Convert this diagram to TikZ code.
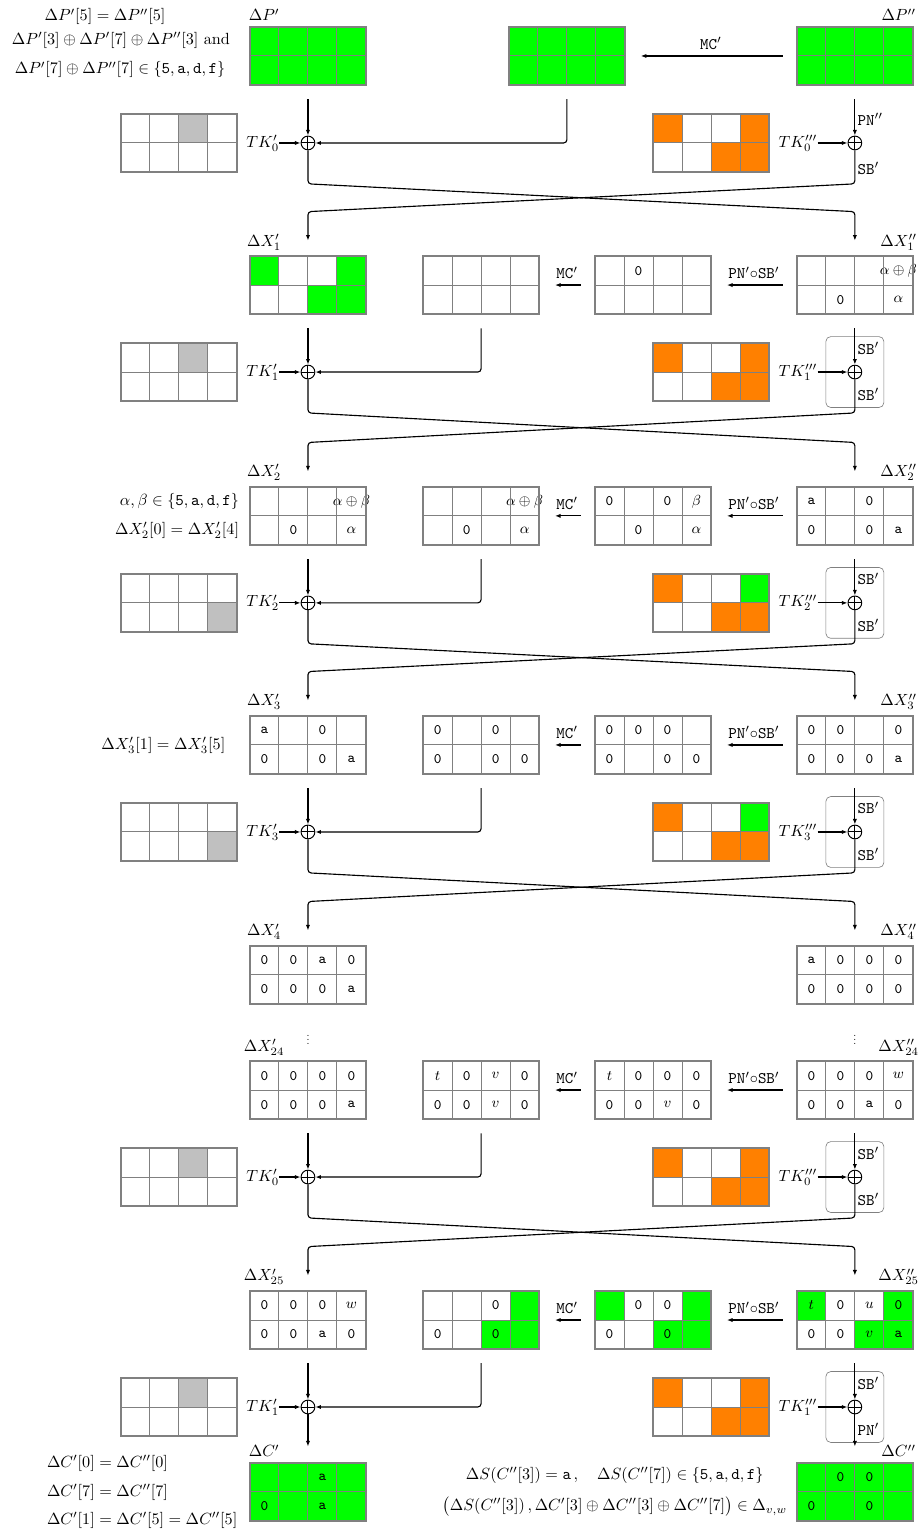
\documentclass[tikz,border=0pt]{standalone}
\usetikzlibrary{arrows.meta,calc,positioning}

\definecolor{actgreen}{RGB}{0,255,0}
\definecolor{keyorange}{RGB}{255,128,0}
\definecolor{keygray}{RGB}{192,192,192}

\tikzset{
  cellbox/.style={inner sep=0pt, minimum width=2.52cm, minimum height=1.26cm},
  celltxt/.style={font=\ttfamily\small, inner sep=0pt},
  gridln/.style={draw=gray, line width=0.6pt},
  xorop/.style={circle, draw, line width=0.6pt, inner sep=0pt, minimum size=8.5pt,
    path picture={\draw[line width=0.6pt] (path picture bounding box.north) -- (path picture bounding box.south)
      (path picture bounding box.west) -- (path picture bounding box.east);}},
  tklbl/.style={anchor=west, inner sep=0pt, xshift=5.5pt},
  oplbl/.style={anchor=base west, inner sep=1.5pt},
  sbbox/.style={draw=gray, rounded corners=3pt, minimum width=1.26cm, minimum height=1.54cm, inner sep=0pt},
  flow/.style={->, line width=0.7pt, rounded corners=2pt},
  rndarr/.style={->, line width=0.7pt, shorten <=8.6pt, shorten >=9.6pt},
}

% #1 name, #2 north west corner, #3 background, #4 cells index/colour/text
\newcommand{\drawstate}[4]{%
  \begin{scope}[shift={(#2)}]
    \fill[#3] (0,0) rectangle (4,-2);
    \foreach \k/\fc/\tx in {#4} {
      \pgfmathtruncatemacro{\cx}{mod(\k,4)}
      \pgfmathtruncatemacro{\cy}{\k/4}
      \fill[\fc] (\cx,-\cy) rectangle ++(1,-1);
      \node[celltxt] at (\cx+0.5,-\cy-0.5) {\tx};
    }
    \foreach \i in {1,2,3}
      \draw[gridln] (\i,0) -- (\i,-2);
    \draw[gridln] (0,-1) -- (4,-1);
    \draw[gridln, line width=1pt] (0,0) rectangle (4,-2);
    \node[cellbox] (#1) at (2,-1) {};
  \end{scope}}

\begin{document}
\begin{tikzpicture}[x=0.63cm, y=0.63cm, >={Latex[length=3.5pt,width=2.6pt]}]
    \useasboundingbox (0,0) rectangle (31.66,-52.9);

    % round 0
    \drawstate{P1}{8.62,-0.93}{actgreen}{0/actgreen/{}}
    \drawstate{P1m}{17.55,-0.93}{actgreen}{0/actgreen/{}}
    \drawstate{P2}{27.48,-0.93}{actgreen}{0/actgreen/{}}
    \drawstate{K0a}{4.17,-3.93}{white}{2/keygray/{}}
    \drawstate{K0b}{22.52,-3.93}{white}{0/keyorange/{},3/keyorange/{},6/keyorange/{},7/keyorange/{}}
    \node[above] at ([xshift=0.315cm]P1.north west) {$\Delta P'$};
    \node[above] at ([xshift=-0.315cm]P2.north east) {$\Delta P''$};
    \node at (3.62,-0.58) {$\Delta P'[5] = \Delta P''[5]$};
    \node at (4.17,-1.4) {$\Delta P'[3]\oplus\Delta P'[7]\oplus\Delta P''[3]$ and};
    \node at (4.14,-2.41) {$\Delta P'[7]\oplus\Delta P''[7]\in\{\texttt{5},\texttt{a},\texttt{d},\texttt{f}\}$};
    \node[xorop] (x0a) at (10.62,-4.93) {};
    \node[xorop] (x0b) at (29.48,-4.93) {};
    \node[tklbl] (tk0a) at (K0a.east) {$TK'_0$};
    \node[tklbl] (tk0b) at (K0b.east) {$TK'''_0$};
    \node[oplbl] at ($(x0b)+(0,0.6)$) {\texttt{PN}$''$};
    \node[oplbl] at ($(x0b)+(0,-1.1)$) {\texttt{SB}$'$};
    \draw[rndarr] (P2) -- node[above] {\texttt{MC}$'$} (P1m);
    \draw[flow, shorten <=8.6pt] (P1) -- (x0a);
    \draw[flow, shorten <=8.6pt] (P1m) |- (x0a);
    \draw[flow] (tk0a) -- (x0a);
    \draw[flow] (tk0b) -- (x0b);
    \draw[flow, shorten <=8.6pt] (P2) -- (x0b);

    % round 1
    \drawstate{X1a}{8.62,-8.83}{white}{0/actgreen/{},3/actgreen/{},6/actgreen/{},7/actgreen/{}}
    \drawstate{X1m}{14.59,-8.83}{white}{0/white/{}}
    \drawstate{X1n}{20.52,-8.83}{white}{1/white/0}
    \drawstate{X1b}{27.48,-8.83}{white}{3/white/{$\alpha\oplus\beta$},5/white/0,7/white/{$\alpha$}}
    \drawstate{K1a}{4.17,-11.83}{white}{2/keygray/{}}
    \drawstate{K1b}{22.52,-11.83}{white}{0/keyorange/{},3/keyorange/{},6/keyorange/{},7/keyorange/{}}
    \node[above] at ([xshift=0.315cm]X1a.north west) {$\Delta X'_1$};
    \node[above] at ([xshift=-0.315cm]X1b.north east) {$\Delta X''_1$};
    \node[xorop] (x1a) at (10.62,-12.83) {};
    \node[xorop] (x1b) at (29.48,-12.83) {};
    \node[sbbox] at (x1b) {};
    \node[tklbl] (tk1a) at (K1a.east) {$TK'_1$};
    \node[tklbl] (tk1b) at (K1b.east) {$TK'''_1$};
    \node[oplbl] at ($(x1b)+(0,0.62)$) {\texttt{SB}$'$};
    \node[oplbl] at ($(x1b)+(0,-0.97)$) {\texttt{SB}$'$};
    \draw[rndarr] (X1b) -- node[above] {\texttt{PN}$'{\circ}$\texttt{SB}$'$} (X1n);
    \draw[rndarr] (X1n) -- node[above] {\texttt{MC}$'$} (X1m);
    \draw[flow, shorten <=8.6pt] (X1a) -- (x1a);
    \draw[flow, shorten <=8.6pt] (X1m) |- (x1a);
    \draw[flow] (tk1a) -- (x1a);
    \draw[flow] (tk1b) -- (x1b);
    \draw[flow, shorten <=8.6pt] (X1b) -- (x1b);
    \draw[flow, shorten >=9.3pt] (x0a) -- ++(0,-1.41) -- ($(X1b.north)+(0,1.52)$) -- (X1b.north);
    \draw[flow, shorten >=9.3pt] (x0b) -- ++(0,-1.41) -- ($(X1a.north)+(0,1.52)$) -- (X1a.north);

    % round 2
    \drawstate{X2a}{8.62,-16.79}{white}{3/white/{$\alpha\oplus\beta$},5/white/0,7/white/{$\alpha$}}
    \drawstate{X2m}{14.59,-16.79}{white}{3/white/{$\alpha\oplus\beta$},5/white/0,7/white/{$\alpha$}}
    \drawstate{X2n}{20.52,-16.79}{white}{0/white/0,2/white/0,3/white/{$\beta$},5/white/0,7/white/{$\alpha$}}
    \drawstate{X2b}{27.48,-16.79}{white}{0/white/a,2/white/0,4/white/0,6/white/0,7/white/a}
    \drawstate{K2a}{4.17,-19.79}{white}{7/keygray/{}}
    \drawstate{K2b}{22.52,-19.79}{white}{0/keyorange/{},3/actgreen/{},6/keyorange/{},7/keyorange/{}}
    \node[above] at ([xshift=0.315cm]X2a.north west) {$\Delta X'_2$};
    \node[above] at ([xshift=-0.315cm]X2b.north east) {$\Delta X''_2$};
    \node[left=3pt] at ($(X2a.north west)+(0,-0.5)$) {$\alpha,\beta\in\{\texttt{5},\texttt{a},\texttt{d},\texttt{f}\}$};
    \node[left=3pt] at ($(X2a.north west)+(0,-1.5)$) {$\Delta X'_2[0] = \Delta X'_2[4]$};
    \node[xorop] (x2a) at (10.62,-20.79) {};
    \node[xorop] (x2b) at (29.48,-20.79) {};
    \node[sbbox] at (x2b) {};
    \node[tklbl] (tk2a) at (K2a.east) {$TK'_2$};
    \node[tklbl] (tk2b) at (K2b.east) {$TK'''_2$};
    \node[oplbl] at ($(x2b)+(0,0.62)$) {\texttt{SB}$'$};
    \node[oplbl] at ($(x2b)+(0,-0.97)$) {\texttt{SB}$'$};
    \draw[rndarr] (X2b) -- node[above] {\texttt{PN}$'{\circ}$\texttt{SB}$'$} (X2n);
    \draw[rndarr] (X2n) -- node[above] {\texttt{MC}$'$} (X2m);
    \draw[flow, shorten <=8.6pt] (X2a) -- (x2a);
    \draw[flow, shorten <=8.6pt] (X2m) |- (x2a);
    \draw[flow] (tk2a) -- (x2a);
    \draw[flow] (tk2b) -- (x2b);
    \draw[flow, shorten <=8.6pt] (X2b) -- (x2b);
    \draw[flow, shorten >=9.3pt] (x1a) -- ++(0,-1.41) -- ($(X2b.north)+(0,1.52)$) -- (X2b.north);
    \draw[flow, shorten >=9.3pt] (x1b) -- ++(0,-1.41) -- ($(X2a.north)+(0,1.52)$) -- (X2a.north);

    % round 3
    \drawstate{X3a}{8.62,-24.69}{white}{0/white/a,2/white/0,4/white/0,6/white/0,7/white/a}
    \drawstate{X3m}{14.59,-24.69}{white}{0/white/0,2/white/0,4/white/0,6/white/0,7/white/0}
    \drawstate{X3n}{20.52,-24.69}{white}{0/white/0,1/white/0,2/white/0,4/white/0,6/white/0,7/white/0}
    \drawstate{X3b}{27.48,-24.69}{white}{0/white/0,1/white/0,3/white/0,4/white/0,5/white/0,6/white/0,7/white/a}
    \drawstate{K3a}{4.17,-27.69}{white}{7/keygray/{}}
    \drawstate{K3b}{22.52,-27.69}{white}{0/keyorange/{},3/actgreen/{},6/keyorange/{},7/keyorange/{}}
    \node[above] at ([xshift=0.315cm]X3a.north west) {$\Delta X'_3$};
    \node[above] at ([xshift=-0.315cm]X3b.north east) {$\Delta X''_3$};
    \node[left=11.5pt] at (X3a.west) {$\Delta X'_3[1] = \Delta X'_3[5]$};
    \node[xorop] (x3a) at (10.62,-28.69) {};
    \node[xorop] (x3b) at (29.48,-28.69) {};
    \node[sbbox] at (x3b) {};
    \node[tklbl] (tk3a) at (K3a.east) {$TK'_3$};
    \node[tklbl] (tk3b) at (K3b.east) {$TK'''_3$};
    \node[oplbl] at ($(x3b)+(0,0.62)$) {\texttt{SB}$'$};
    \node[oplbl] at ($(x3b)+(0,-0.97)$) {\texttt{SB}$'$};
    \draw[rndarr] (X3b) -- node[above] {\texttt{PN}$'{\circ}$\texttt{SB}$'$} (X3n);
    \draw[rndarr] (X3n) -- node[above] {\texttt{MC}$'$} (X3m);
    \draw[flow, shorten <=8.6pt] (X3a) -- (x3a);
    \draw[flow, shorten <=8.6pt] (X3m) |- (x3a);
    \draw[flow] (tk3a) -- (x3a);
    \draw[flow] (tk3b) -- (x3b);
    \draw[flow, shorten <=8.6pt] (X3b) -- (x3b);
    \draw[flow, shorten >=9.3pt] (x2a) -- ++(0,-1.41) -- ($(X3b.north)+(0,1.52)$) -- (X3b.north);
    \draw[flow, shorten >=9.3pt] (x2b) -- ++(0,-1.41) -- ($(X3a.north)+(0,1.52)$) -- (X3a.north);

    % round 4
    \drawstate{X4a}{8.62,-32.62}{white}{0/white/0,1/white/0,2/white/a,3/white/0,4/white/0,5/white/0,6/white/0,7/white/a}
    \drawstate{X4b}{27.48,-32.62}{white}{0/white/a,1/white/0,2/white/0,3/white/0,4/white/0,5/white/0,6/white/0,7/white/0}
    \node[above] at ([xshift=0.315cm]X4a.north west) {$\Delta X'_4$};
    \node[above] at ([xshift=-0.315cm]X4b.north east) {$\Delta X''_4$};
    \draw[flow, shorten >=9.3pt] (x3a) -- ++(0,-1.41) -- ($(X4b.north)+(0,1.52)$) -- (X4b.north);
    \draw[flow, shorten >=9.3pt] (x3b) -- ++(0,-1.41) -- ($(X4a.north)+(0,1.52)$) -- (X4a.north);
    \node (dta) at (10.62,-35.76) {\scalebox{0.65}{$\vdots$}};
    \node (dtb) at (29.48,-35.76) {\scalebox{0.65}{$\vdots$}};

    % round 24
    \drawstate{X24a}{8.62,-36.59}{white}{0/white/0,1/white/0,2/white/0,3/white/0,4/white/0,5/white/0,6/white/0,7/white/a}
    \drawstate{X24m}{14.59,-36.59}{white}{0/white/{$t$},1/white/0,2/white/{$v$},3/white/0,4/white/0,5/white/0,6/white/{$v$},7/white/0}
    \drawstate{X24n}{20.52,-36.59}{white}{0/white/{$t$},1/white/0,2/white/0,3/white/0,4/white/0,5/white/0,6/white/{$v$},7/white/0}
    \drawstate{X24b}{27.48,-36.59}{white}{0/white/0,1/white/0,2/white/0,3/white/{$w$},4/white/0,5/white/0,6/white/a,7/white/0}
    \drawstate{K24a}{4.17,-39.59}{white}{2/keygray/{}}
    \drawstate{K24b}{22.52,-39.59}{white}{0/keyorange/{},3/keyorange/{},6/keyorange/{},7/keyorange/{}}
    \node[above] at ([xshift=0.315cm]X24a.north west) {$\Delta X'_{24}$};
    \node[above] at ([xshift=-0.315cm]X24b.north east) {$\Delta X''_{24}$};
    \node[xorop] (x24a) at (10.62,-40.59) {};
    \node[xorop] (x24b) at (29.48,-40.59) {};
    \node[sbbox] at (x24b) {};
    \node[tklbl] (tk24a) at (K24a.east) {$TK'_0$};
    \node[tklbl] (tk24b) at (K24b.east) {$TK'''_0$};
    \node[oplbl] at ($(x24b)+(0,0.62)$) {\texttt{SB}$'$};
    \node[oplbl] at ($(x24b)+(0,-0.97)$) {\texttt{SB}$'$};
    \draw[rndarr] (X24b) -- node[above] {\texttt{PN}$'{\circ}$\texttt{SB}$'$} (X24n);
    \draw[rndarr] (X24n) -- node[above] {\texttt{MC}$'$} (X24m);
    \draw[flow, shorten <=8.6pt] (X24a) -- (x24a);
    \draw[flow, shorten <=8.6pt] (X24m) |- (x24a);
    \draw[flow] (tk24a) -- (x24a);
    \draw[flow] (tk24b) -- (x24b);
    \draw[flow, shorten <=8.6pt] (X24b) -- (x24b);

    % round 25
    \drawstate{X25a}{8.62,-44.52}{white}{0/white/0,1/white/0,2/white/0,3/white/{$w$},4/white/0,5/white/0,6/white/a,7/white/0}
    \drawstate{X25m}{14.59,-44.52}{white}{2/white/0,3/actgreen/{},4/white/0,6/actgreen/0,7/actgreen/{}}
    \drawstate{X25n}{20.52,-44.52}{white}{0/actgreen/{},1/white/0,2/white/0,3/actgreen/{},4/white/0,6/actgreen/0,7/actgreen/{}}
    \drawstate{X25b}{27.48,-44.52}{white}{0/actgreen/{$t$},1/white/0,2/white/{$u$},3/actgreen/0,4/white/0,5/white/0,6/actgreen/{$v$},7/actgreen/a}
    \drawstate{K25a}{4.17,-47.52}{white}{2/keygray/{}}
    \drawstate{K25b}{22.52,-47.52}{white}{0/keyorange/{},3/keyorange/{},6/keyorange/{},7/keyorange/{}}
    \node[above] at ([xshift=0.315cm]X25a.north west) {$\Delta X'_{25}$};
    \node[above] at ([xshift=-0.315cm]X25b.north east) {$\Delta X''_{25}$};
    \node[xorop] (x25a) at (10.62,-48.52) {};
    \node[xorop] (x25b) at (29.48,-48.52) {};
    \node[sbbox] at (x25b) {};
    \node[tklbl] (tk25a) at (K25a.east) {$TK'_1$};
    \node[tklbl] (tk25b) at (K25b.east) {$TK'''_1$};
    \node[oplbl] at ($(x25b)+(0,0.62)$) {\texttt{SB}$'$};
    \node[oplbl] at ($(x25b)+(0,-0.97)$) {\texttt{PN}$'$};
    \draw[rndarr] (X25b) -- node[above] {\texttt{PN}$'{\circ}$\texttt{SB}$'$} (X25n);
    \draw[rndarr] (X25n) -- node[above] {\texttt{MC}$'$} (X25m);
    \draw[flow, shorten <=8.6pt] (X25a) -- (x25a);
    \draw[flow, shorten <=8.6pt] (X25m) |- (x25a);
    \draw[flow] (tk25a) -- (x25a);
    \draw[flow] (tk25b) -- (x25b);
    \draw[flow, shorten <=8.6pt] (X25b) -- (x25b);
    \draw[flow, shorten >=9.3pt] (x24a) -- ++(0,-1.41) -- ($(X25b.north)+(0,1.52)$) -- (X25b.north);
    \draw[flow, shorten >=9.3pt] (x24b) -- ++(0,-1.41) -- ($(X25a.north)+(0,1.52)$) -- (X25a.north);

    % output
    \drawstate{Ca}{8.62,-50.45}{actgreen}{2/actgreen/a,4/actgreen/0,6/actgreen/a}
    \drawstate{Cb}{27.48,-50.45}{actgreen}{1/actgreen/0,2/actgreen/0,4/actgreen/0,6/actgreen/0}
    \node[above] at ([xshift=0.315cm]Ca.north west) {$\Delta C'$};
    \node[above] at ([xshift=-0.315cm]Cb.north east) {$\Delta C''$};
    \draw[flow, shorten >=9.9pt] (x25a) -- (Ca.north);
    \draw[flow, shorten >=9.9pt] (x25b) -- (Cb.north);
    \node[anchor=west, align=left, inner sep=0pt] at (1.61,-51.45)
      {$\Delta C'[0] = \Delta C''[0]$\\[5.5pt]$\Delta C'[7] = \Delta C''[7]$\\[5.5pt]$\Delta C'[1] = \Delta C'[5] = \Delta C''[5]$};
    \node[align=center] at (21.2,-51.45)
      {$\Delta S(C''[3]) = \texttt{a}\,,\quad \Delta S(C''[7])\in\{\texttt{5},\texttt{a},\texttt{d},\texttt{f}\}$\\[7pt]
       $\big(\Delta S(C''[3])\,,\Delta C'[3]\oplus\Delta C''[3]\oplus\Delta C''[7]\big)\in\Delta_{v,w}$};
\end{tikzpicture}
\end{document}
